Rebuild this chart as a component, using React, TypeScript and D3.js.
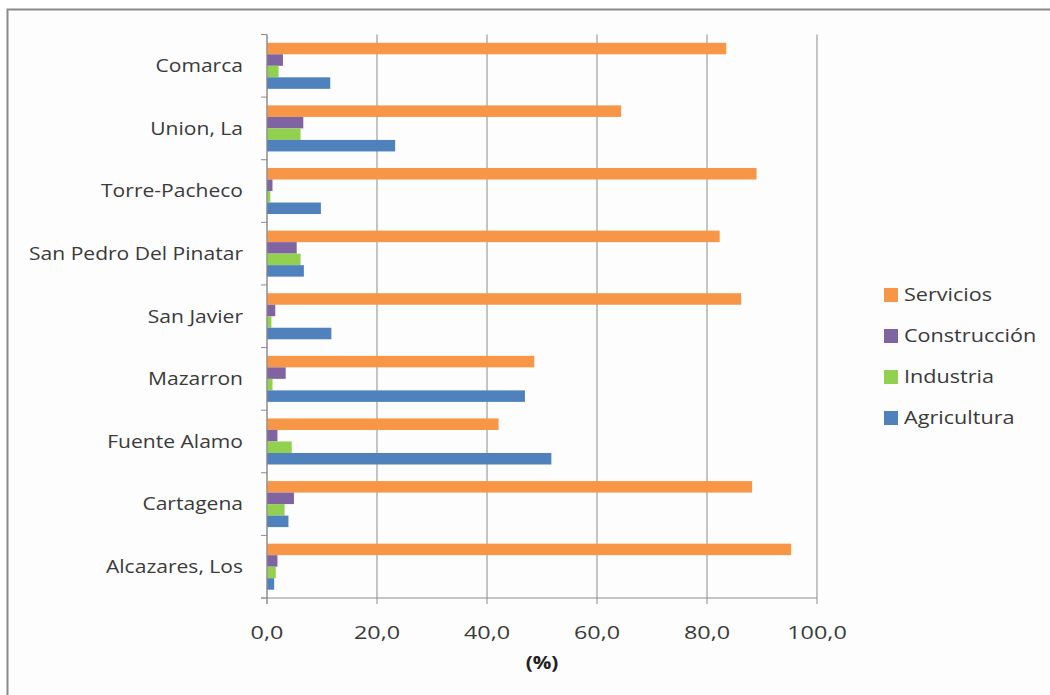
import React from "react";
import * as d3 from "d3";

const categories = [
  "Comarca",
  "Union, La",
  "Torre-Pacheco",
  "San Pedro Del Pinatar",
  "San Javier",
  "Mazarron",
  "Fuente Alamo",
  "Cartagena",
  "Alcazares, Los",
];
const seriesNames = ["Servicios", "Construcción", "Industria", "Agricultura"];
const seriesColors = ["#f79646", "#8064a2", "#92d050", "#4f81bd"];
const servicios = [83.5, 64.4, 89.0, 82.3, 86.2, 48.6, 42.1, 88.2, 95.3];
const construccion = [2.9, 6.6, 1.0, 5.4, 1.5, 3.4, 1.9, 4.9, 1.9];
const industria = [2.1, 6.1, 0.6, 6.1, 0.8, 1.0, 4.5, 3.2, 1.6];
const agricultura = [11.5, 23.3, 9.8, 6.7, 11.7, 46.9, 51.7, 3.9, 1.3];
const xTicks = [0, 20, 40, 60, 80, 100];
const axisTitle = "(%)";

const seriesValues = [servicios, construccion, industria, agricultura];

const FONT = "'Open Sans', 'Liberation Sans', sans-serif";

function SText(props: {
  x: number;
  y: number;
  sx: number;
  anchor: "start" | "middle" | "end";
  size: number;
  bold?: boolean;
  fill?: string;
  children: React.ReactNode;
}) {
  return (
    <text
      transform={`translate(${props.x},${props.y}) scale(${props.sx},1)`}
      dy="0.35em"
      textAnchor={props.anchor}
      fontSize={props.size}
      fontWeight={props.bold ? "bold" : "normal"}
      fill={props.fill || "#3a3a3a"}
    >
      {props.children}
    </text>
  );
}

export default function App() {
  const W = 1050;
  const H = 695;
  const left = 267;
  const right = 817;
  const top = 34.5;
  const bottom = 598;

  const x = d3.scaleLinear().domain([0, 100]).range([left, right]);
  const y = d3.scaleBand<string>().domain(categories).range([top, bottom]).paddingInner(0).paddingOuter(0);
  const inner = d3
    .scaleBand<string>()
    .domain(seriesNames)
    .range([0, y.bandwidth()])
    .paddingInner(0)
    .paddingOuter(0.72);

  const fmt = (v: number) => d3.format(".1f")(v).replace(".", ",");

  return (
    <svg
      width={W}
      height={H}
      style={{ position: "absolute", left: 0, top: 0, background: "#fff" }}
      fontFamily={FONT}
    >
      <rect x={0} y={0} width={W} height={H} fill="#fff" />
      <rect x={7.5} y={9.5} width={1100} height={720} fill="#fdfdfd" stroke="#8a8a8a" strokeWidth={2} />

      {/* gridlines */}
      {xTicks.map((t) => (
        <line key={"g" + t} x1={x(t)} x2={x(t)} y1={top} y2={bottom} stroke="#8c8c8c" strokeWidth={1} />
      ))}

      {/* bars */}
      {categories.map((c, ci) => (
        <g key={c}>
          {seriesNames.map((s, si) => (
            <rect
              key={s}
              x={x(0)}
              y={(y(c) as number) + (inner(s) as number)}
              width={x(seriesValues[si][ci]) - x(0)}
              height={inner.bandwidth()}
              fill={seriesColors[si]}
            />
          ))}
        </g>
      ))}

      {/* y axis */}
      <line x1={left} x2={left} y1={top} y2={bottom + 6} stroke="#8c8c8c" strokeWidth={1} />
      {d3.range(categories.length + 1).map((i) => {
        const yy = top + i * y.step();
        return <line key={"yt" + i} x1={left - 6} x2={left} y1={yy} y2={yy} stroke="#8c8c8c" strokeWidth={1} />;
      })}
      {categories.map((c) => (
        <SText key={"yl" + c} x={243} y={(y(c) as number) + y.bandwidth() / 2} sx={1.17} anchor="end" size={18}>
          {c}
        </SText>
      ))}

      {/* x axis */}
      <line x1={left - 6} x2={right} y1={bottom} y2={bottom} stroke="#8c8c8c" strokeWidth={1} />
      {xTicks.map((t) => (
        <g key={"xt" + t}>
          <line x1={x(t)} x2={x(t)} y1={bottom} y2={bottom + 6} stroke="#8c8c8c" strokeWidth={1} />
          <SText x={x(t)} y={633} sx={1.3} anchor="middle" size={18}>
            {fmt(t)}
          </SText>
        </g>
      ))}
      <SText x={542} y={663} sx={1.15} anchor="middle" size={18} bold fill="#222">
        {axisTitle}
      </SText>

      {/* legend */}
      {seriesNames.map((s, i) => {
        const ly = 295 + i * 41;
        return (
          <g key={"lg" + s}>
            <rect x={884} y={ly - 7} width={14} height={14} fill={seriesColors[i]} />
            <SText x={904} y={ly} sx={1.2} anchor="start" size={18}>
              {s}
            </SText>
          </g>
        );
      })}
    </svg>
  );
}
